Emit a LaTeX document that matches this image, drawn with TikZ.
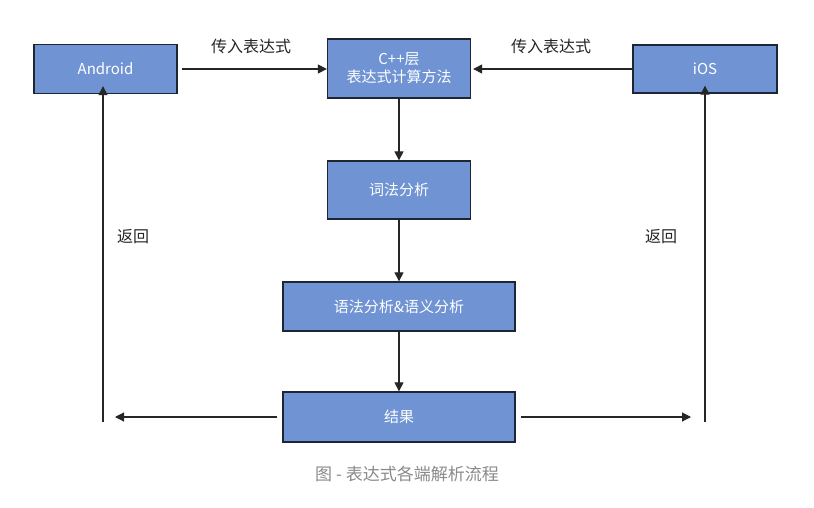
\documentclass[tikz,border=0pt]{standalone}
\usepackage{fontspec}
\setmainfont{Noto Sans CJK SC}
\newfontfamily\cjk{Noto Sans CJK SC}
\usetikzlibrary{arrows.meta}
\definecolor{boxblue}{HTML}{6F93D3}
\definecolor{boxedge}{HTML}{1E2533}
\definecolor{capgray}{HTML}{8A8A8A}
\tikzset{
  blk/.style={draw=boxedge, line width=1.3pt, fill=boxblue, text=white, font=\cjk\fontsize{15}{18}\selectfont, align=center, inner sep=0pt},
  conn/.style={line width=1.1pt, draw=black!85, -{Triangle[length=9pt,width=9pt]}},
  lbl/.style={font=\cjk\fontsize{16}{19}\selectfont, text=black!85}
}
\begin{document}
\begin{tikzpicture}[x=1pt,y=-1pt]
\useasboundingbox[fill=white] (0,0) rectangle (814,507);
\node[blk, minimum width=143pt, minimum height=49pt] (and) at (105.5,69) {Android};
\node[blk, minimum width=143pt, minimum height=59pt] (cpp) at (399,68.5) {C++层\\表达式计算方法};
\node[blk, minimum width=144pt, minimum height=48pt] (ios) at (705,69) {iOS};
\node[blk, minimum width=143pt, minimum height=58pt] (lex) at (399,190) {词法分析};
\node[blk, minimum width=232pt, minimum height=49pt] (syn) at (399,306.5) {语法分析\&语义分析};
\node[blk, minimum width=232pt, minimum height=50pt] (res) at (399,417) {结果};
\draw[conn] ([xshift=4pt]and.east) -- (cpp.west|-and.east);
\draw[conn] (ios.west) -- ([xshift=2pt]cpp.east|-ios.west);
\node[lbl] (l1) at (251,46) {传入表达式};
\node[lbl] (l2) at (551,46) {传入表达式};
\draw[conn] (cpp.south) -- (lex.north);
\draw[conn] (lex.south) -- (syn.north);
\draw[conn] (syn.south) -- (res.north);
\coordinate (lh) at (115,417);
\coordinate (rh) at (691,417);
\draw[conn] ([xshift=-5pt]res.west) -- (lh|-res.west);
\draw[conn] ([xshift=5pt]res.east) -- (rh|-res.east);
\coordinate (lb) at (103,422);
\coordinate (rb) at (705,422);
\draw[conn] (lb) -- ([yshift=8pt]lb|-and.south);
\draw[conn] (rb) -- ([yshift=8pt]rb|-ios.south);
\node[lbl] (r1) at (133,237) {返回};
\node[lbl] (r2) at (661,237) {返回};
\node[font=\cjk\fontsize{17}{20}\selectfont, text=capgray] (cap) at (407,474) {图 - 表达式各端解析流程};
\end{tikzpicture}
\end{document}
